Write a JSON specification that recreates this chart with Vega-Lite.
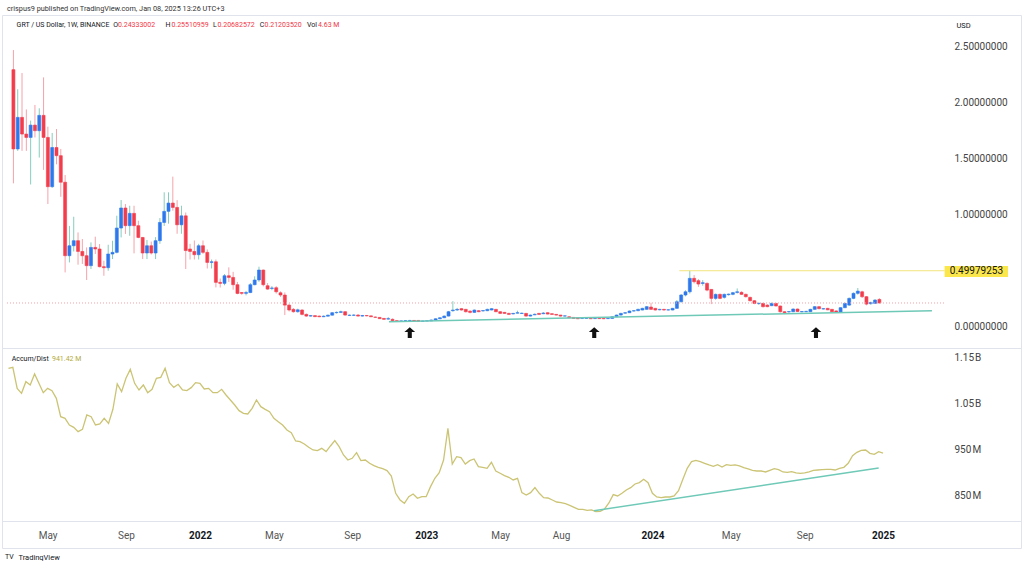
{
"$schema": "https://vega.github.io/schema/vega-lite/v6.json",
"padding": {"left": 1, "top": 4, "right": 3, "bottom": 0},
"background": "#ffffff",
"bounds": "flush",
"spacing": 0,
"config": {"font": "Roboto", "view": {"stroke": "#e0e3eb", "strokeWidth": 1}, "axis": {"grid": false, "ticks": false, "domain": false, "labelFont": "Roboto", "titleFont": "Roboto"}, "title": {"font": "Roboto"}},
"datasets": {"w": [
{"t":"2021-03-01","o":2.295,"h":2.47,"l":1.28,"c":1.587,"ad":1126.0},
{"t":"2021-03-08","o":1.587,"h":2.12,"l":1.57,"c":1.869,"ad":1128.2},
{"t":"2021-03-15","o":1.869,"h":2.265,"l":1.57,"c":1.72,"ad":1082.5},
{"t":"2021-03-22","o":1.72,"h":1.94,"l":1.57,"c":1.69,"ad":1071.7},
{"t":"2021-03-29","o":1.69,"h":1.84,"l":1.27,"c":1.80,"ad":1097.0},
{"t":"2021-04-05","o":1.80,"h":1.98,"l":1.69,"c":1.75,"ad":1089.8},
{"t":"2021-04-12","o":1.75,"h":1.95,"l":1.51,"c":1.887,"ad":1113.7},
{"t":"2021-04-19","o":1.887,"h":2.226,"l":1.40,"c":1.69,"ad":1093.4},
{"t":"2021-04-26","o":1.69,"h":1.786,"l":1.095,"c":1.25,"ad":1073.1},
{"t":"2021-05-03","o":1.25,"h":1.73,"l":1.24,"c":1.60,"ad":1082.5},
{"t":"2021-05-10","o":1.60,"h":1.765,"l":1.45,"c":1.527,"ad":1077.5},
{"t":"2021-05-17","o":1.527,"h":1.587,"l":1.16,"c":1.29,"ad":1060.8},
{"t":"2021-05-24","o":1.29,"h":1.354,"l":0.485,"c":0.634,"ad":1020.9},
{"t":"2021-05-31","o":0.634,"h":0.90,"l":0.574,"c":0.723,"ad":1017.3},
{"t":"2021-06-07","o":0.723,"h":0.982,"l":0.672,"c":0.768,"ad":1002.8},
{"t":"2021-06-14","o":0.768,"h":0.842,"l":0.554,"c":0.672,"ad":997.8},
{"t":"2021-06-21","o":0.672,"h":0.783,"l":0.56,"c":0.634,"ad":988.3},
{"t":"2021-06-28","o":0.634,"h":0.708,"l":0.417,"c":0.545,"ad":993.4},
{"t":"2021-07-05","o":0.545,"h":0.753,"l":0.515,"c":0.708,"ad":1024.6},
{"t":"2021-07-12","o":0.708,"h":0.804,"l":0.649,"c":0.694,"ad":1020.9},
{"t":"2021-07-19","o":0.694,"h":0.738,"l":0.53,"c":0.536,"ad":1002.8},
{"t":"2021-07-26","o":0.536,"h":0.589,"l":0.455,"c":0.527,"ad":1005.0},
{"t":"2021-08-02","o":0.527,"h":0.732,"l":0.50,"c":0.649,"ad":1017.3},
{"t":"2021-08-09","o":0.649,"h":0.768,"l":0.604,"c":0.664,"ad":1006.4},
{"t":"2021-08-16","o":0.664,"h":0.991,"l":0.655,"c":0.881,"ad":1036.9},
{"t":"2021-08-23","o":0.881,"h":1.131,"l":0.797,"c":1.06,"ad":1092.0},
{"t":"2021-08-30","o":1.06,"h":1.095,"l":0.828,"c":0.902,"ad":1075.3},
{"t":"2021-09-06","o":0.902,"h":1.08,"l":0.812,"c":1.012,"ad":1104.3},
{"t":"2021-09-13","o":1.012,"h":1.08,"l":0.655,"c":0.902,"ad":1123.8},
{"t":"2021-09-20","o":0.902,"h":0.946,"l":0.79,"c":0.797,"ad":1093.4},
{"t":"2021-09-27","o":0.797,"h":0.80,"l":0.604,"c":0.658,"ad":1078.9},
{"t":"2021-10-04","o":0.658,"h":0.774,"l":0.604,"c":0.723,"ad":1089.8},
{"t":"2021-10-11","o":0.723,"h":0.76,"l":0.645,"c":0.658,"ad":1073.1},
{"t":"2021-10-18","o":0.658,"h":0.80,"l":0.604,"c":0.768,"ad":1080.4},
{"t":"2021-10-25","o":0.768,"h":0.97,"l":0.74,"c":0.931,"ad":1104.3},
{"t":"2021-11-01","o":0.931,"h":1.2,"l":0.90,"c":1.03,"ad":1106.4},
{"t":"2021-11-08","o":1.03,"h":1.2,"l":0.92,"c":1.104,"ad":1126.0},
{"t":"2021-11-15","o":1.104,"h":1.34,"l":1.036,"c":1.065,"ad":1094.9},
{"t":"2021-11-22","o":1.065,"h":1.13,"l":0.83,"c":0.91,"ad":1084.7},
{"t":"2021-11-29","o":0.91,"h":1.08,"l":0.83,"c":0.99,"ad":1091.2},
{"t":"2021-12-06","o":0.99,"h":1.02,"l":0.515,"c":0.68,"ad":1078.9},
{"t":"2021-12-13","o":0.694,"h":0.74,"l":0.60,"c":0.672,"ad":1077.5},
{"t":"2021-12-20","o":0.672,"h":0.77,"l":0.60,"c":0.643,"ad":1084.0},
{"t":"2021-12-27","o":0.643,"h":0.74,"l":0.60,"c":0.723,"ad":1094.9},
{"t":"2022-01-03","o":0.723,"h":0.77,"l":0.65,"c":0.664,"ad":1093.4},
{"t":"2022-01-10","o":0.664,"h":0.69,"l":0.52,"c":0.574,"ad":1081.1},
{"t":"2022-01-17","o":0.574,"h":0.60,"l":0.52,"c":0.58,"ad":1082.5},
{"t":"2022-01-24","o":0.58,"h":0.60,"l":0.351,"c":0.396,"ad":1073.1},
{"t":"2022-01-31","o":0.396,"h":0.43,"l":0.35,"c":0.387,"ad":1073.1},
{"t":"2022-02-07","o":0.387,"h":0.47,"l":0.37,"c":0.455,"ad":1080.4},
{"t":"2022-02-14","o":0.455,"h":0.53,"l":0.40,"c":0.44,"ad":1068.0},
{"t":"2022-02-21","o":0.44,"h":0.49,"l":0.33,"c":0.375,"ad":1057.2},
{"t":"2022-02-28","o":0.375,"h":0.40,"l":0.29,"c":0.297,"ad":1046.3},
{"t":"2022-03-07","o":0.305,"h":0.31,"l":0.285,"c":0.298,"ad":1034.0},
{"t":"2022-03-14","o":0.298,"h":0.32,"l":0.28,"c":0.305,"ad":1028.2},
{"t":"2022-03-21","o":0.305,"h":0.39,"l":0.30,"c":0.375,"ad":1026.7},
{"t":"2022-03-28","o":0.375,"h":0.45,"l":0.37,"c":0.417,"ad":1039.1},
{"t":"2022-04-04","o":0.417,"h":0.536,"l":0.40,"c":0.506,"ad":1057.2},
{"t":"2022-04-11","o":0.506,"h":0.51,"l":0.36,"c":0.375,"ad":1042.7},
{"t":"2022-04-18","o":0.366,"h":0.39,"l":0.33,"c":0.336,"ad":1036.9},
{"t":"2022-04-25","o":0.342,"h":0.362,"l":0.326,"c":0.346,"ad":1031.8},
{"t":"2022-05-02","o":0.348,"h":0.362,"l":0.296,"c":0.312,"ad":1017.3},
{"t":"2022-05-09","o":0.303,"h":0.316,"l":0.266,"c":0.283,"ad":1010.1},
{"t":"2022-05-16","o":0.283,"h":0.306,"l":0.104,"c":0.193,"ad":1002.8},
{"t":"2022-05-23","o":0.193,"h":0.206,"l":0.136,"c":0.149,"ad":992.0},
{"t":"2022-05-30","o":0.155,"h":0.166,"l":0.126,"c":0.134,"ad":986.2},
{"t":"2022-06-06","o":0.134,"h":0.161,"l":0.126,"c":0.151,"ad":968.0},
{"t":"2022-06-13","o":0.149,"h":0.156,"l":0.101,"c":0.11,"ad":966.6},
{"t":"2022-06-20","o":0.11,"h":0.118,"l":0.089,"c":0.095,"ad":961.5},
{"t":"2022-06-27","o":0.095,"h":0.105,"l":0.09,"c":0.099,"ad":954.3},
{"t":"2022-07-04","o":0.099,"h":0.103,"l":0.086,"c":0.09,"ad":948.5},
{"t":"2022-07-11","o":0.095,"h":0.1,"l":0.085,"c":0.089,"ad":947.0},
{"t":"2022-07-18","o":0.089,"h":0.101,"l":0.086,"c":0.094,"ad":952.1},
{"t":"2022-07-25","o":0.094,"h":0.108,"l":0.091,"c":0.103,"ad":944.9},
{"t":"2022-08-01","o":0.103,"h":0.131,"l":0.1,"c":0.125,"ad":957.2},
{"t":"2022-08-08","o":0.125,"h":0.136,"l":0.118,"c":0.128,"ad":968.8},
{"t":"2022-08-15","o":0.128,"h":0.143,"l":0.124,"c":0.134,"ad":955.7},
{"t":"2022-08-22","o":0.134,"h":0.138,"l":0.1,"c":0.104,"ad":937.6},
{"t":"2022-08-29","o":0.101,"h":0.109,"l":0.096,"c":0.103,"ad":926.7},
{"t":"2022-09-05","o":0.102,"h":0.111,"l":0.096,"c":0.104,"ad":930.4},
{"t":"2022-09-12","o":0.104,"h":0.113,"l":0.092,"c":0.095,"ad":942.7},
{"t":"2022-09-19","o":0.095,"h":0.105,"l":0.091,"c":0.1,"ad":925.3},
{"t":"2022-09-26","o":0.1,"h":0.105,"l":0.093,"c":0.097,"ad":926.7},
{"t":"2022-10-03","o":0.097,"h":0.101,"l":0.086,"c":0.089,"ad":919.5},
{"t":"2022-10-10","o":0.086,"h":0.091,"l":0.079,"c":0.084,"ad":914.4},
{"t":"2022-10-17","o":0.083,"h":0.085,"l":0.069,"c":0.072,"ad":910.8},
{"t":"2022-10-24","o":0.074,"h":0.078,"l":0.063,"c":0.066,"ad":907.9},
{"t":"2022-10-31","o":0.068,"h":0.086,"l":0.064,"c":0.072,"ad":903.6},
{"t":"2022-11-07","o":0.066,"h":0.074,"l":0.049,"c":0.054,"ad":892.0},
{"t":"2022-11-14","o":0.054,"h":0.058,"l":0.044,"c":0.048,"ad":854.3},
{"t":"2022-11-21","o":0.049,"h":0.056,"l":0.046,"c":0.052,"ad":839.8},
{"t":"2022-11-28","o":0.052,"h":0.059,"l":0.049,"c":0.054,"ad":832.5},
{"t":"2022-12-05","o":0.054,"h":0.061,"l":0.051,"c":0.056,"ad":847.0},
{"t":"2022-12-12","o":0.056,"h":0.059,"l":0.048,"c":0.051,"ad":852.8},
{"t":"2022-12-19","o":0.056,"h":0.058,"l":0.045,"c":0.048,"ad":843.4},
{"t":"2022-12-26","o":0.048,"h":0.054,"l":0.046,"c":0.051,"ad":847.0},
{"t":"2023-01-02","o":0.051,"h":0.056,"l":0.049,"c":0.053,"ad":847.0},
{"t":"2023-01-09","o":0.052,"h":0.064,"l":0.05,"c":0.06,"ad":868.8},
{"t":"2023-01-16","o":0.06,"h":0.075,"l":0.058,"c":0.071,"ad":886.9},
{"t":"2023-01-23","o":0.071,"h":0.085,"l":0.068,"c":0.08,"ad":899.2},
{"t":"2023-01-30","o":0.08,"h":0.1,"l":0.077,"c":0.095,"ad":926.7},
{"t":"2023-02-06","o":0.095,"h":0.141,"l":0.092,"c":0.134,"ad":995.6},
{"t":"2023-02-13","o":0.143,"h":0.228,"l":0.134,"c":0.149,"ad":918.0},
{"t":"2023-02-20","o":0.149,"h":0.168,"l":0.141,"c":0.155,"ad":934.0},
{"t":"2023-02-27","o":0.161,"h":0.166,"l":0.144,"c":0.149,"ad":931.8},
{"t":"2023-03-06","o":0.155,"h":0.159,"l":0.127,"c":0.134,"ad":918.0},
{"t":"2023-03-13","o":0.139,"h":0.146,"l":0.119,"c":0.128,"ad":925.3},
{"t":"2023-03-20","o":0.128,"h":0.154,"l":0.124,"c":0.149,"ad":928.9},
{"t":"2023-03-27","o":0.143,"h":0.148,"l":0.13,"c":0.134,"ad":912.3},
{"t":"2023-04-03","o":0.141,"h":0.148,"l":0.136,"c":0.144,"ad":910.8},
{"t":"2023-04-10","o":0.143,"h":0.161,"l":0.139,"c":0.155,"ad":908.6},
{"t":"2023-04-17","o":0.149,"h":0.166,"l":0.146,"c":0.161,"ad":921.7},
{"t":"2023-04-24","o":0.155,"h":0.159,"l":0.13,"c":0.134,"ad":902.8},
{"t":"2023-05-01","o":0.134,"h":0.138,"l":0.114,"c":0.119,"ad":897.8},
{"t":"2023-05-08","o":0.128,"h":0.132,"l":0.115,"c":0.119,"ad":892.7},
{"t":"2023-05-15","o":0.119,"h":0.124,"l":0.106,"c":0.11,"ad":889.1},
{"t":"2023-05-22","o":0.114,"h":0.123,"l":0.111,"c":0.119,"ad":883.3},
{"t":"2023-05-29","o":0.121,"h":0.143,"l":0.118,"c":0.125,"ad":886.9},
{"t":"2023-06-05","o":0.118,"h":0.126,"l":0.114,"c":0.121,"ad":855.7},
{"t":"2023-06-12","o":0.119,"h":0.122,"l":0.091,"c":0.095,"ad":850.7},
{"t":"2023-06-19","o":0.095,"h":0.109,"l":0.092,"c":0.104,"ad":855.7},
{"t":"2023-06-26","o":0.106,"h":0.118,"l":0.103,"c":0.111,"ad":866.6},
{"t":"2023-07-03","o":0.119,"h":0.122,"l":0.106,"c":0.11,"ad":854.3},
{"t":"2023-07-10","o":0.116,"h":0.131,"l":0.112,"c":0.122,"ad":844.9},
{"t":"2023-07-17","o":0.125,"h":0.128,"l":0.11,"c":0.113,"ad":844.1},
{"t":"2023-07-24","o":0.116,"h":0.119,"l":0.106,"c":0.11,"ad":839.8},
{"t":"2023-07-31","o":0.11,"h":0.113,"l":0.101,"c":0.104,"ad":835.4},
{"t":"2023-08-07","o":0.104,"h":0.106,"l":0.091,"c":0.095,"ad":834.0},
{"t":"2023-08-14","o":0.095,"h":0.101,"l":0.092,"c":0.097,"ad":831.8},
{"t":"2023-08-21","o":0.089,"h":0.092,"l":0.077,"c":0.08,"ad":828.2},
{"t":"2023-08-28","o":0.083,"h":0.086,"l":0.072,"c":0.074,"ad":823.8},
{"t":"2023-09-04","o":0.08,"h":0.082,"l":0.068,"c":0.071,"ad":819.5},
{"t":"2023-09-11","o":0.073,"h":0.078,"l":0.07,"c":0.075,"ad":819.5},
{"t":"2023-09-18","o":0.074,"h":0.079,"l":0.072,"c":0.076,"ad":817.3},
{"t":"2023-09-25","o":0.076,"h":0.078,"l":0.069,"c":0.071,"ad":818.1},
{"t":"2023-10-02","o":0.072,"h":0.078,"l":0.07,"c":0.075,"ad":814.4},
{"t":"2023-10-09","o":0.076,"h":0.078,"l":0.069,"c":0.072,"ad":815.2},
{"t":"2023-10-16","o":0.075,"h":0.077,"l":0.068,"c":0.071,"ad":820.2},
{"t":"2023-10-23","o":0.072,"h":0.079,"l":0.07,"c":0.075,"ad":833.3},
{"t":"2023-10-30","o":0.074,"h":0.093,"l":0.072,"c":0.089,"ad":851.4},
{"t":"2023-11-06","o":0.089,"h":0.108,"l":0.086,"c":0.104,"ad":848.5},
{"t":"2023-11-13","o":0.104,"h":0.124,"l":0.101,"c":0.119,"ad":854.3},
{"t":"2023-11-20","o":0.121,"h":0.129,"l":0.116,"c":0.125,"ad":861.5},
{"t":"2023-11-27","o":0.125,"h":0.145,"l":0.122,"c":0.14,"ad":866.6},
{"t":"2023-12-04","o":0.14,"h":0.148,"l":0.136,"c":0.143,"ad":874.6},
{"t":"2023-12-11","o":0.143,"h":0.161,"l":0.139,"c":0.155,"ad":877.5},
{"t":"2023-12-18","o":0.149,"h":0.169,"l":0.146,"c":0.164,"ad":884.7},
{"t":"2023-12-25","o":0.155,"h":0.184,"l":0.152,"c":0.179,"ad":877.5},
{"t":"2024-01-01","o":0.176,"h":0.214,"l":0.151,"c":0.155,"ad":854.3},
{"t":"2024-01-08","o":0.164,"h":0.168,"l":0.144,"c":0.149,"ad":846.3},
{"t":"2024-01-15","o":0.151,"h":0.16,"l":0.146,"c":0.155,"ad":844.9},
{"t":"2024-01-22","o":0.155,"h":0.159,"l":0.144,"c":0.149,"ad":846.3},
{"t":"2024-01-29","o":0.149,"h":0.156,"l":0.145,"c":0.151,"ad":846.3},
{"t":"2024-02-05","o":0.149,"h":0.168,"l":0.146,"c":0.164,"ad":848.5},
{"t":"2024-02-12","o":0.164,"h":0.238,"l":0.161,"c":0.223,"ad":860.1},
{"t":"2024-02-19","o":0.223,"h":0.291,"l":0.216,"c":0.283,"ad":884.7},
{"t":"2024-02-26","o":0.283,"h":0.326,"l":0.271,"c":0.312,"ad":908.6},
{"t":"2024-03-04","o":0.312,"h":0.49979253,"l":0.296,"c":0.432,"ad":923.1},
{"t":"2024-03-11","o":0.432,"h":0.461,"l":0.386,"c":0.402,"ad":926.0},
{"t":"2024-03-18","o":0.411,"h":0.426,"l":0.356,"c":0.381,"ad":923.1},
{"t":"2024-03-25","o":0.386,"h":0.416,"l":0.366,"c":0.393,"ad":919.5},
{"t":"2024-04-01","o":0.387,"h":0.396,"l":0.316,"c":0.327,"ad":915.9},
{"t":"2024-04-08","o":0.333,"h":0.336,"l":0.202,"c":0.253,"ad":913.0},
{"t":"2024-04-15","o":0.253,"h":0.296,"l":0.241,"c":0.289,"ad":916.6},
{"t":"2024-04-22","o":0.289,"h":0.296,"l":0.246,"c":0.253,"ad":911.5},
{"t":"2024-04-29","o":0.262,"h":0.296,"l":0.251,"c":0.289,"ad":916.6},
{"t":"2024-05-06","o":0.286,"h":0.296,"l":0.278,"c":0.291,"ad":915.2},
{"t":"2024-05-13","o":0.289,"h":0.311,"l":0.281,"c":0.304,"ad":915.9},
{"t":"2024-05-20","o":0.306,"h":0.342,"l":0.296,"c":0.312,"ad":913.7},
{"t":"2024-05-27","o":0.307,"h":0.316,"l":0.284,"c":0.289,"ad":910.1},
{"t":"2024-06-03","o":0.289,"h":0.296,"l":0.261,"c":0.268,"ad":907.2},
{"t":"2024-06-10","o":0.262,"h":0.268,"l":0.226,"c":0.232,"ad":904.3},
{"t":"2024-06-17","o":0.232,"h":0.238,"l":0.201,"c":0.208,"ad":902.8},
{"t":"2024-06-24","o":0.206,"h":0.216,"l":0.196,"c":0.209,"ad":902.8},
{"t":"2024-07-01","o":0.208,"h":0.213,"l":0.171,"c":0.179,"ad":900.7},
{"t":"2024-07-08","o":0.193,"h":0.201,"l":0.174,"c":0.179,"ad":904.3},
{"t":"2024-07-15","o":0.188,"h":0.216,"l":0.184,"c":0.208,"ad":907.9},
{"t":"2024-07-22","o":0.208,"h":0.213,"l":0.181,"c":0.185,"ad":905.7},
{"t":"2024-07-29","o":0.185,"h":0.189,"l":0.126,"c":0.134,"ad":900.7},
{"t":"2024-08-05","o":0.134,"h":0.138,"l":0.113,"c":0.125,"ad":900.0},
{"t":"2024-08-12","o":0.132,"h":0.14,"l":0.127,"c":0.135,"ad":901.4},
{"t":"2024-08-19","o":0.134,"h":0.163,"l":0.131,"c":0.158,"ad":898.5},
{"t":"2024-08-26","o":0.158,"h":0.162,"l":0.132,"c":0.136,"ad":897.8},
{"t":"2024-09-02","o":0.133,"h":0.14,"l":0.128,"c":0.136,"ad":898.5},
{"t":"2024-09-09","o":0.134,"h":0.142,"l":0.13,"c":0.137,"ad":900.7},
{"t":"2024-09-16","o":0.134,"h":0.16,"l":0.131,"c":0.155,"ad":904.3},
{"t":"2024-09-23","o":0.155,"h":0.184,"l":0.152,"c":0.179,"ad":905.0},
{"t":"2024-09-30","o":0.179,"h":0.182,"l":0.156,"c":0.161,"ad":905.7},
{"t":"2024-10-07","o":0.158,"h":0.166,"l":0.154,"c":0.161,"ad":906.5},
{"t":"2024-10-14","o":0.164,"h":0.168,"l":0.147,"c":0.151,"ad":906.5},
{"t":"2024-10-21","o":0.155,"h":0.159,"l":0.13,"c":0.134,"ad":905.0},
{"t":"2024-10-28","o":0.141,"h":0.145,"l":0.124,"c":0.128,"ad":908.6},
{"t":"2024-11-04","o":0.128,"h":0.174,"l":0.124,"c":0.17,"ad":910.8},
{"t":"2024-11-11","o":0.17,"h":0.216,"l":0.166,"c":0.208,"ad":919.5},
{"t":"2024-11-18","o":0.193,"h":0.261,"l":0.186,"c":0.253,"ad":936.2},
{"t":"2024-11-25","o":0.253,"h":0.306,"l":0.246,"c":0.298,"ad":943.4},
{"t":"2024-12-02","o":0.298,"h":0.346,"l":0.286,"c":0.318,"ad":947.8},
{"t":"2024-12-09","o":0.312,"h":0.321,"l":0.256,"c":0.268,"ad":948.5},
{"t":"2024-12-16","o":0.268,"h":0.274,"l":0.191,"c":0.202,"ad":941.2},
{"t":"2024-12-23","o":0.206,"h":0.224,"l":0.196,"c":0.216,"ad":939.1},
{"t":"2024-12-30","o":0.208,"h":0.246,"l":0.204,"c":0.238,"ad":944.9},
{"t":"2025-01-06","o":0.24333002,"h":0.25510959,"l":0.20682572,"c":0.2120352,"ad":941.42}
]},
"vconcat": [
{
 "width": 1019, "height": 333,
 "title": {"text": "crispus9 published on TradingView.com, Jan 08, 2025 13:26 UTC+3", "anchor": "start", "dx": 5, "offset": 3, "fontSize": 7.3, "fontWeight": "normal", "color": "#333333"},
 "encoding": {"x": {"field": "t", "type": "temporal", "scale": {"type": "utc", "domain": [{"year": 2021, "month": 2, "date": 18, "hours": 14, "utc": true}, {"year": 2025, "month": 8, "date": 16, "utc": true}]}, "axis": null}},
 "layer": [
  {"data": {"name": "w"}, "mark": {"type": "rule", "strokeWidth": 1},
   "encoding": {
    "y": {"field": "l", "type": "quantitative", "scale": {"domain": [-0.19, 2.783], "nice": false, "zero": false},
      "axis": {"orient": "right", "offset": -75, "values": [0, 1, 1.5, 2, 2.5], "format": ".8f", "labelAlign": "left", "labelBaseline": "middle", "labelPadding": 8, "labelFontSize": 10, "labelColor": "#444444", "title": "USD", "titleAngle": 0, "titleX": 10, "titleY": 10, "titleAlign": "left", "titleBaseline": "middle", "titleFontSize": 7.5, "titleFontWeight": "normal", "titleColor": "#131722"}},
    "y2": {"field": "h"},
    "color": {"condition": {"test": "datum.c >= datum.o", "value": "#84cdbd"}, "value": "#f5a2aa"}
   }},
  {"data": {"name": "w"}, "mark": {"type": "bar", "width": 3, "strokeWidth": 0.6},
   "encoding": {
    "y": {"field": "o", "type": "quantitative"},
    "y2": {"field": "c"},
    "color": {"condition": {"test": "datum.c >= datum.o", "value": "#2e78ec"}, "value": "#f23d4c"},
    "stroke": {"condition": {"test": "datum.c >= datum.o", "value": "#2e78ec"}, "value": "#f23d4c"}
   }},
  {"data": {"values": [{"t": "2021-02-18T14:00:00Z", "t2": "2025-04-21T00:00:00Z", "v": 0.2120352}]},
   "mark": {"type": "rule", "color": "#f5a0a8", "strokeWidth": 1, "strokeDash": [1, 2]},
   "encoding": {"x2": {"field": "t2"}, "y": {"field": "v", "type": "quantitative"}}},
  {"data": {"values": [{"t": "2024-02-16T00:00:00Z", "t2": "2025-04-22T00:00:00Z", "v": 0.49979253}]},
   "mark": {"type": "rule", "color": "#f2e47a", "strokeWidth": 1},
   "encoding": {"x2": {"field": "t2"}, "y": {"field": "v", "type": "quantitative"}}},
  {"data": {"values": [{"t": "2022-11-01T05:00:00Z", "v": 0.045}, {"t": "2025-04-01T10:00:00Z", "v": 0.143}]},
   "mark": {"type": "line", "color": "#6fc9b7", "strokeWidth": 1.5},
   "encoding": {"y": {"field": "v", "type": "quantitative"}}},
  {"data": {"values": [{"t": "2022-12-05T00:00:00Z", "v": -0.052}, {"t": "2023-09-30T17:00:00Z", "v": -0.052}, {"t": "2024-09-25T00:00:00Z", "v": -0.052}]},
   "mark": {"type": "point", "shape": "M0,-1L1,-0.1L0.38,-0.1L0.38,1L-0.38,1L-0.38,-0.1L-1,-0.1Z", "filled": true, "color": "#111111", "opacity": 1, "size": 115},
   "encoding": {"y": {"field": "v", "type": "quantitative"}}},
  {"data": {"values": [{"t": "2025-04-22T00:00:00Z", "t2": "2025-08-03T00:00:00Z", "v": 0.444, "v2": 0.542}]},
   "mark": {"type": "rect", "color": "#fbe64c"},
   "encoding": {"x2": {"field": "t2"}, "y": {"field": "v", "type": "quantitative"}, "y2": {"field": "v2"}}},
  {"data": {"values": [{"t": "2025-06-12T18:00:00Z", "v": 0.49979253, "s": "0.49979253"}]},
   "mark": {"type": "text", "align": "center", "baseline": "middle", "fontSize": 10, "color": "#131722", "font": "Roboto"},
   "encoding": {"y": {"field": "v", "type": "quantitative"}, "text": {"field": "s"}}},
  {"data": {"values": [
    {"t": "2021-03-06T05:00:00Z", "s": "GRT / US Dollar, 1W, BINANCE", "k": "n", "v": 2.694},
    {"t": "2021-08-10T05:00:00Z", "s": "O", "k": "n", "v": 2.694},
    {"t": "2021-08-17T19:00:00Z", "s": "0.24333002", "k": "v", "v": 2.694},
    {"t": "2021-11-03T00:00:00Z", "s": "H", "k": "n", "v": 2.694},
    {"t": "2021-11-12T17:00:00Z", "s": "0.25510959", "k": "v", "v": 2.694},
    {"t": "2022-01-19T05:00:00Z", "s": "L", "k": "n", "v": 2.694},
    {"t": "2022-01-26T12:00:00Z", "s": "0.20682572", "k": "v", "v": 2.694},
    {"t": "2022-04-05T10:00:00Z", "s": "C", "k": "n", "v": 2.694},
    {"t": "2022-04-12T22:00:00Z", "s": "0.21203520", "k": "v", "v": 2.694},
    {"t": "2022-06-21T00:00:00Z", "s": "Vol", "k": "n", "v": 2.694},
    {"t": "2022-07-08T19:00:00Z", "s": "4.63 M", "k": "v", "v": 2.694}
   ]},
   "mark": {"type": "text", "align": "left", "baseline": "middle", "fontSize": 7, "font": "Roboto"},
   "encoding": {
    "y": {"field": "v", "type": "quantitative"},
    "text": {"field": "s"},
    "color": {"condition": {"test": "datum.k == 'v'", "value": "#f23645"}, "value": "#131722"}
   }}
 ]
},
{
 "width": 1019, "height": 200,
 "encoding": {"x": {"field": "t", "type": "temporal", "scale": {"type": "utc", "domain": [{"year": 2021, "month": 2, "date": 18, "hours": 14, "utc": true}, {"year": 2025, "month": 8, "date": 16, "utc": true}]},
   "axis": {"orient": "bottom", "offset": -27,
     "values": [{"year": 2021, "month": 5, "date": 3, "utc": true}, {"year": 2021, "month": 9, "date": 6, "utc": true}, {"year": 2022, "month": 1, "date": 3, "utc": true}, {"year": 2022, "month": 5, "date": 2, "utc": true}, {"year": 2022, "month": 9, "date": 5, "utc": true}, {"year": 2023, "month": 1, "date": 2, "utc": true}, {"year": 2023, "month": 5, "date": 1, "utc": true}, {"year": 2023, "month": 8, "date": 7, "utc": true}, {"year": 2024, "month": 1, "date": 1, "utc": true}, {"year": 2024, "month": 5, "date": 6, "utc": true}, {"year": 2024, "month": 9, "date": 2, "utc": true}, {"year": 2025, "month": 1, "date": 6, "utc": true}],
     "labelExpr": "utcmonth(datum.value) == 0 ? utcFormat(datum.value, '%Y') : utcFormat(datum.value, '%b')",
     "labelFontSize": 10,
     "labelFontWeight": {"condition": {"test": "utcmonth(datum.value) == 0", "value": "bold"}, "value": "normal"},
     "labelColor": {"condition": {"test": "utcmonth(datum.value) == 0", "value": "#131722"}, "value": "#555555"},
     "labelPadding": 9, "labelOverlap": false, "labelFlush": false,
     "domain": true, "domainColor": "#e0e3eb", "domainWidth": 1, "ticks": false, "grid": false,
     "title": "TradingView", "titleX": 16, "titleY": 36, "titleAlign": "left", "titleBaseline": "middle", "titleFontSize": 7.5, "titleFontWeight": "normal", "titleColor": "#131722", "titleAngle": 0}}},
 "layer": [
  {"data": {"name": "w"}, "mark": {"type": "line", "color": "#cbc474", "strokeWidth": 1.3},
   "encoding": {"y": {"field": "ad", "type": "quantitative", "scale": {"domain": [735.4, 1170.2], "nice": false, "zero": false},
     "axis": {"orient": "right", "offset": -75, "values": [850, 950, 1050, 1150], "labelExpr": "datum.value >= 1000 ? format(datum.value / 1000, '.2f') + '\u200aB' : datum.value + '\u200aM'", "labelAlign": "left", "labelBaseline": "middle", "labelPadding": 8, "labelFontSize": 10, "labelColor": "#444444", "title": null}}}},
  {"data": {"values": [{"t": "2023-09-29T00:00:00Z", "v": 816.5}, {"t": "2024-12-30T00:00:00Z", "v": 909.3}]},
   "mark": {"type": "line", "color": "#6fc9b7", "strokeWidth": 1.5},
   "encoding": {"y": {"field": "v", "type": "quantitative"}}},
  {"data": {"values": [
    {"t": "2021-03-06T05:00:00Z", "s": "Accum/Dist", "k": "n", "v": 1146.3},
    {"t": "2021-05-10T00:00:00Z", "s": "941.42 M", "k": "v", "v": 1146.3},
    {"t": "2021-02-23T10:00:00Z", "s": "TV", "k": "logo", "v": 715.9}
   ]},
   "mark": {"type": "text", "align": "left", "baseline": "middle", "fontSize": 7, "font": "Roboto"},
   "encoding": {
    "y": {"field": "v", "type": "quantitative"},
    "text": {"field": "s"},
    "color": {"condition": {"test": "datum.k == 'v'", "value": "#b3aa3a"}, "value": "#131722"},
    "fontWeight": {"condition": {"test": "datum.k == 'logo'", "value": "bold"}, "value": "normal"}
   }}
 ]
}
]
}
